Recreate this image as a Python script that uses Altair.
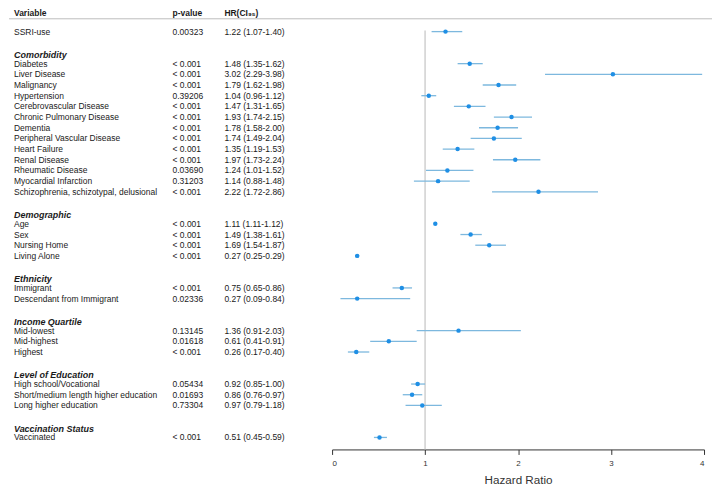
import altair as alt
import pandas as pd

# ---- data ----
group_names = ["", "Comorbidity", "Demographic", "Ethnicity", "Income Quartile",
               "Level of Education", "Vaccination Status"]
group_vars = [
    ["SSRI-use"],
    ["Diabetes", "Liver Disease", "Malignancy", "Hypertension", "Cerebrovascular Disease",
     "Chronic Pulmonary Disease", "Dementia", "Peripheral Vascular Disease", "Heart Failure",
     "Renal Disease", "Rheumatic Disease", "Myocardial Infarction",
     "Schizophrenia, schizotypal, delusional"],
    ["Age", "Sex", "Nursing Home", "Living Alone"],
    ["Immigrant", "Descendant from Immigrant"],
    ["Mid-lowest", "Mid-highest", "Highest"],
    ["High school/Vocational", "Short/medium length higher education", "Long higher education"],
    ["Vaccinated"],
]
p_values = ["0.00323",
            "< 0.001", "< 0.001", "< 0.001", "0.39206", "< 0.001", "< 0.001", "< 0.001",
            "< 0.001", "< 0.001", "< 0.001", "0.03690", "0.31203", "< 0.001",
            "< 0.001", "< 0.001", "< 0.001", "< 0.001",
            "< 0.001", "0.02336",
            "0.13145", "0.01618", "< 0.001",
            "0.05434", "0.01693", "0.73304",
            "< 0.001"]
hr = [1.22,
      1.48, 3.02, 1.79, 1.04, 1.47, 1.93, 1.78, 1.74, 1.35, 1.97, 1.24, 1.14, 2.22,
      1.11, 1.49, 1.69, 0.27,
      0.75, 0.27,
      1.36, 0.61, 0.26,
      0.92, 0.86, 0.97,
      0.51]
ci_low = [1.07,
          1.35, 2.29, 1.62, 0.96, 1.31, 1.74, 1.58, 1.49, 1.19, 1.73, 1.01, 0.88, 1.72,
          1.11, 1.38, 1.54, 0.25,
          0.65, 0.09,
          0.91, 0.41, 0.17,
          0.85, 0.76, 0.79,
          0.45]
ci_high = [1.40,
           1.62, 3.98, 1.98, 1.12, 1.65, 2.15, 2.00, 2.04, 1.53, 2.24, 1.52, 1.48, 2.86,
           1.12, 1.61, 1.87, 0.29,
           0.86, 0.84,
           2.03, 0.91, 0.40,
           1.00, 0.97, 1.18,
           0.59]
column_headers = ["Variable", "p-value", "HR(CI\u2089\u2085)"]
x_ticks = [0, 1, 2, 3, 4]

# ---- build tables ----
rows, hdr_rows = [], []
row = 0
k = 0
for gi, (gname, members) in enumerate(zip(group_names, group_vars)):
    if gi > 0:
        row += 3
        hdr_rows.append({"row": row - 0.82, "label": gname})
    for j, v in enumerate(members):
        if j > 0:
            row += 1
        rows.append({"row": row, "variable": v, "p": p_values[k], "hr": hr[k],
                     "lo": ci_low[k], "hi": ci_high[k],
                     "hrtxt": f"{hr[k]:.2f} ({ci_low[k]:.2f}-{ci_high[k]:.2f})"})
        k += 1
df = pd.DataFrame(rows)
hdf = pd.DataFrame(hdr_rows)
max_row = df["row"].max()

W, H = 705, 442
ROW_PX = 10.71
TOP = 23
xs = alt.Scale(domain=[0, 4], range=[324, 697])
ys = alt.Scale(domain=[0, max_row], range=[TOP, TOP + max_row * ROW_PX])

FONT = "Liberation Sans"
TXT = "#1a1a1a"

x_axis = alt.Axis(values=x_ticks, format="d", grid=False, title="Hazard Ratio",
                  domainColor="#333333", tickColor="#333333", tickSize=5,
                  labelFont=FONT, labelFontSize=8, labelColor="#333333", labelPadding=5,
                  titleFont=FONT, titleFontSize=11.7, titleFontWeight="normal",
                  titleColor="#333333", titlePadding=7)


def X(field):
    return alt.X(field, type="quantitative", scale=xs, axis=x_axis)


def Y(field="row"):
    return alt.Y(field, type="quantitative", scale=ys, axis=None)


top_df = pd.DataFrame({"row": [-1.2]})
head_df = pd.DataFrame({"row": [-1.75] * 3, "label": column_headers,
                        "col": [0, 1, 2]})
ref_df = pd.DataFrame({"x": [1.0], "row": [-0.1]})

top_line = alt.Chart(top_df).mark_rule(color="#bdbdbd", strokeWidth=1).encode(
    y=Y(), x=alt.value(0), x2=alt.value(W))

ref_line = alt.Chart(ref_df).mark_rule(color="#c4c4c4", strokeWidth=1.2).encode(
    x=X("x"), y=Y(), y2=alt.value(H))

bars = alt.Chart(df).mark_rule(color="#7db8de", strokeWidth=1.3).encode(
    x=X("lo"), x2="hi", y=Y())

pts = alt.Chart(df).mark_circle(color="#1f8fe5", size=20, opacity=1).encode(
    x=X("hr"), y=Y())

col_x = [5, 164, 216]

var_txt = alt.Chart(df).mark_text(align="left", baseline="middle", font=FONT,
                                  fontSize=8.5, color=TXT).encode(
    x=alt.value(col_x[0]), y=Y(), text="variable")
p_txt = alt.Chart(df).mark_text(align="left", baseline="middle", font=FONT,
                                fontSize=8.5, color=TXT).encode(
    x=alt.value(col_x[1]), y=Y(), text="p")
hr_txt = alt.Chart(df).mark_text(align="left", baseline="middle", font=FONT,
                                 fontSize=8.5, color=TXT).encode(
    x=alt.value(col_x[2]), y=Y(), text="hrtxt")

grp_txt = alt.Chart(hdf).mark_text(align="left", baseline="middle", font=FONT,
                                   fontSize=9, fontWeight="bold", fontStyle="italic",
                                   color=TXT).encode(
    x=alt.value(col_x[0]), y=Y(), text="label")

head_layers = []
for i, lab in enumerate(column_headers):
    head_layers.append(
        alt.Chart(head_df[head_df["col"] == i]).mark_text(
            align="left", baseline="middle", font=FONT, fontSize=8.5,
            fontWeight="bold", color=TXT).encode(
            x=alt.value(col_x[i]), y=Y(), text="label"))

chart = alt.layer(top_line, ref_line, bars, pts, var_txt, p_txt, hr_txt, grp_txt,
                  *head_layers).properties(
    width=W, height=H, padding={"left": 0, "top": 0, "right": 0, "bottom": 0}
).configure_view(stroke=None)

chart.save("out.html", embed_options={"renderer": "svg", "actions": False})
